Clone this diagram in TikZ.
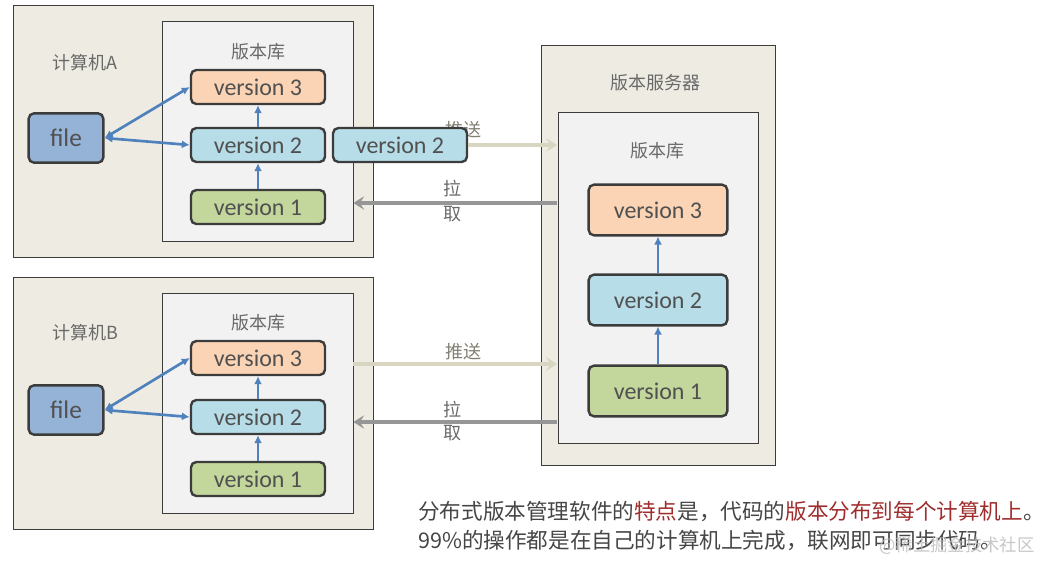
\documentclass[tikz,border=0pt]{standalone}
\usepackage{fontspec}
\setsansfont{Carlito}
\newfontfamily\cjk{Noto Sans CJK SC}
\usetikzlibrary{arrows.meta}

\definecolor{pcbg}{RGB}{238,236,226}
\definecolor{repobg}{RGB}{242,242,242}
\definecolor{boxline}{RGB}{60,60,60}
\definecolor{verthree}{RGB}{250,212,180}
\definecolor{vertwo}{RGB}{183,222,232}
\definecolor{verone}{RGB}{195,214,155}
\definecolor{filefill}{RGB}{149,179,215}
\definecolor{linkblue}{RGB}{79,129,189}
\definecolor{pushcol}{RGB}{216,213,192}
\definecolor{pullcol}{RGB}{150,150,150}
\definecolor{labelgray}{RGB}{105,105,105}
\definecolor{notegray}{RGB}{70,70,70}
\definecolor{notered}{RGB}{160,45,45}

\tikzset{
  pcbox/.style={draw=boxline, fill=pcbg, line width=0.6pt, inner sep=0pt},
  repobox/.style={draw=boxline, fill=repobg, line width=0.6pt, inner sep=0pt},
  verbox/.style={draw=boxline, line width=1.8pt, rounded corners=4pt, inner sep=0pt,
    minimum width=100.5pt, minimum height=25.5pt, text=boxline!90,
    font=\sffamily\fontsize{18}{18}\selectfont},
  bigver/.style={verbox, minimum width=104pt, minimum height=38pt},
  filebox/.style={verbox, fill=filefill, minimum width=56pt, minimum height=37pt,
    font=\sffamily\fontsize{19}{19}\selectfont},
  cjklabel/.style={text=labelgray, font=\cjk\fontsize{13.5}{13.5}\selectfont},
  bluelink/.style={draw=linkblue, line width=2pt, {Latex[length=6pt,width=6pt]}-{Latex[length=6pt,width=6pt]}},
  uplink/.style={draw=linkblue, line width=2pt, -{Latex[length=6pt,width=6pt]}},
  pusharrow/.style={draw=pushcol, line width=3pt, -{Stealth[length=8pt,width=10pt,inset=3pt]}},
  pullarrow/.style={draw=pullcol, line width=3pt, -{Stealth[length=8pt,width=10pt,inset=3pt]}},
}

\begin{document}
\begin{tikzpicture}[x=0.75pt,y=0.75pt,yscale=-1,xscale=1]
\useasboundingbox[fill=white] (0,0) rectangle (1052,571);

%Computer A
\node (pcA) [pcbox, minimum width=270pt, minimum height=189pt] at (193,131) {};
\node (repoA) [repobox, minimum width=143.25pt, minimum height=165pt] at (257.5,131) {};
\node (nameA) [cjklabel] at (85,63) {计算机A};
\node (libA) [cjklabel] at (258,52) {版本库};
\node (v3A) [verbox, fill=verthree] at (258,87) {version 3};
\node (v2A) [verbox, fill=vertwo] at (258,145) {version 2};
\node (v1A) [verbox, fill=verone] at (258,207) {version 1};
\node (fileA) [filebox] at (66,138) {file};

%Computer B
\node (pcB) [pcbox, minimum width=270pt, minimum height=189pt] at (193,403) {};
\node (repoB) [repobox, minimum width=143.25pt, minimum height=165pt] at (257.5,403) {};
\node (nameB) [cjklabel] at (85,333) {计算机B};
\node (libB) [cjklabel] at (258,323) {版本库};
\node (v3B) [verbox, fill=verthree] at (258,358) {version 3};
\node (v2B) [verbox, fill=vertwo] at (258,417) {version 2};
\node (v1B) [verbox, fill=verone] at (258,479) {version 1};
\node (fileB) [filebox] at (66,410) {file};

%Server
\node (srv) [pcbox, minimum width=175.5pt, minimum height=315pt] at (658,255) {};
\node (srvrepo) [repobox, minimum width=150pt, minimum height=248.25pt] at (658,277.5) {};
\node (srvname) [cjklabel] at (655,83) {版本服务器};
\node (srvlib) [cjklabel] at (657,151) {版本库};
\node (v3S) [bigver, fill=verthree] at (658,210) {version 3};
\node (v2S) [bigver, fill=vertwo] at (658,300) {version 2};
\node (v1S) [bigver, fill=verone] at (658,391) {version 1};

%Links inside the repositories
\foreach \pc in {A,B}{
  \draw [bluelink] (file\pc.east) -- (v3\pc.west);
  \draw [bluelink] (file\pc.east) -- (v2\pc.west);
  \draw [uplink] (v1\pc.north) -- (v2\pc.south);
  \draw [uplink] (v2\pc.north) -- (v3\pc.south);
}
\draw [uplink] (v1S.north) -- (v2S.south);
\draw [uplink] (v2S.north) -- (v3S.south);

%Push and pull, computer A
\coordinate (pushA) at (557,145);
\coordinate (pullA) at (557,203);
\node (pushAtext) [cjklabel, text=pushcol!60!black] at (463,130) {推送};
\node (v2Aout) [verbox, fill=vertwo] at (400,145) {version 2};
\draw [pusharrow] (v2Aout.east) -- (pushA);
\draw [pullarrow] (pullA) -- (repoA.east |- pullA);
\node (pullAtop) [cjklabel] at (452,189) {拉};
\node (pullAbot) [cjklabel] at (452,214) {取};

%Push and pull, computer B
\coordinate (pushB) at (557,364);
\coordinate (pullB) at (557,422);
\draw [pusharrow] (repoB.east |- pushB) -- (pushB);
\node (pushBtext) [cjklabel, text=pushcol!60!black] at (463,352) {推送};
\draw [pullarrow] (pullB) -- (repoB.east |- pullB);
\node (pullBtop) [cjklabel] at (452,410) {拉};
\node (pullBbot) [cjklabel] at (452,433) {取};

% Text Node
\node (note1) [anchor=west, inner sep=0pt, text=notegray, font=\cjk\fontsize{16.2}{16.2}\selectfont] at (418,512)
  {分布式版本管理软件的\textcolor{notered}{特点}是，代码的\textcolor{notered}{版本分布到每个计算机上}。};
% Text Node
\node (note2) [anchor=west, inner sep=0pt, text=notegray, font=\cjk\fontsize{16.2}{16.2}\selectfont] at (418,540)
  {99\%的操作都是在自己的计算机上完成，联网即可同步代码。};
% Text Node
\node (mark) [text=gray!55, opacity=0.8, font=\cjk\fontsize{13}{13}\selectfont] at (957,546) {@稀土掘金技术社区};

\end{tikzpicture}
\end{document}
